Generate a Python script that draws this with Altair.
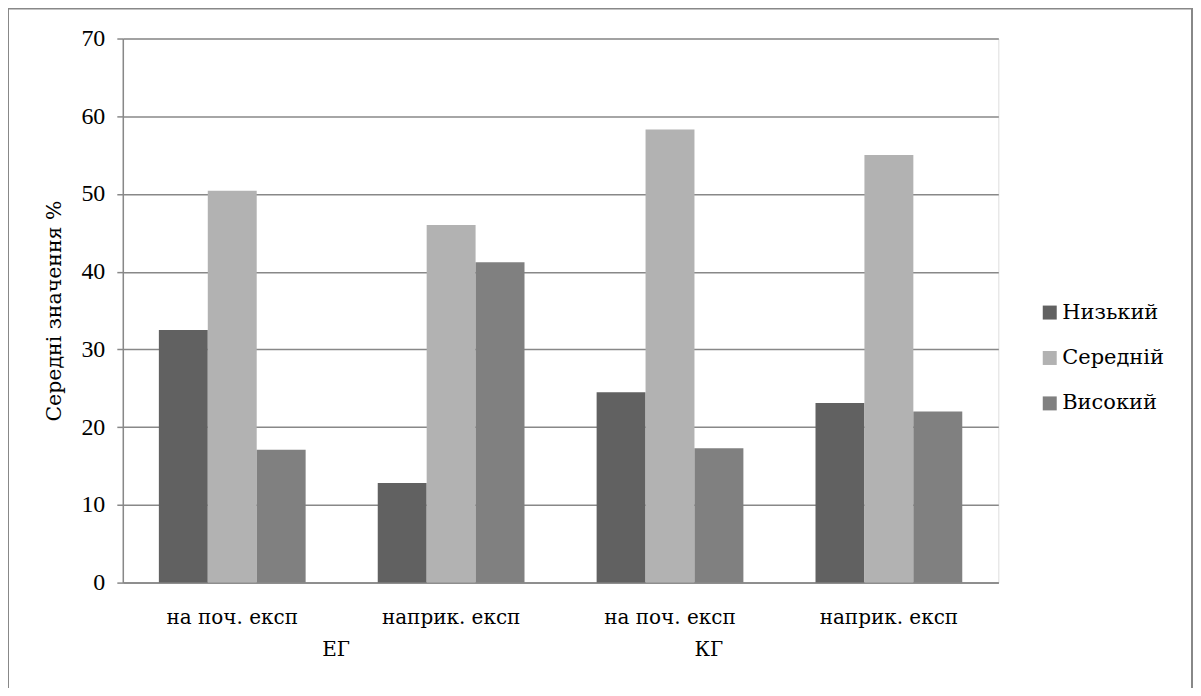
import altair as alt
import pandas as pd

groups = ["ЕГ", "ЕГ", "КГ", "КГ"]
stages = ["на поч. експ", "наприк. експ", "на поч. експ", "наприк. експ"]
series = ["Низький", "Середній", "Високий"]
low = [32.5, 12.8, 24.5, 23.1]
mid = [50.4, 46.0, 58.3, 55.0]
high = [17.1, 41.2, 17.3, 22.0]
colors = ["#616161", "#b2b2b2", "#808080"]

keys = [f"{g}|{s}" for g, s in zip(groups, stages)]
rows = []
for i, k in enumerate(keys):
    for name, vals in zip(series, [low, mid, high]):
        rows.append({"cat": k, "series": name, "value": vals[i]})
df = pd.DataFrame(rows)

FONT = "DejaVu Serif"
NUMFONT = "Liberation Serif"
GRID = "#888888"

xscale = alt.Scale(domain=keys, paddingInner=0, paddingOuter=0)

bars = alt.Chart(df).mark_bar().encode(
    x=alt.X("cat:N", scale=xscale, sort=keys,
            axis=alt.Axis(title=None, labelAngle=0, ticks=False, labelPadding=25,
                          labelExpr="split(datum.label, '|')[1]", labelFontSize=20,
                          labelFont=FONT, labelColor="#000000", domainColor=GRID,
                          domainWidth=1.5, grid=False)),
    xOffset=alt.XOffset("series:N", sort=series,
                        scale=alt.Scale(paddingInner=0, paddingOuter=0.737)),
    y=alt.Y("value:Q", scale=alt.Scale(domain=[0, 70]),
            axis=alt.Axis(title="Середні значення %", values=list(range(0, 71, 10)),
                          labelFontSize=24, labelFont=NUMFONT, labelColor="#000000",
                          titleFont=FONT, titleFontSize=20.5, titleFontWeight="normal",
                          titleColor="#000000", titlePadding=16,
                          tickSize=6, tickColor=GRID, tickWidth=1.5, labelPadding=12,
                          domainColor=GRID, domainWidth=1.5,
                          grid=True, gridColor=GRID, gridWidth=1.5)),
    color=alt.Color("series:N", sort=series,
                    scale=alt.Scale(domain=series, range=colors),
                    legend=alt.Legend(title=None, orient="none", legendX=918, legendY=264,
                                      symbolType="square", symbolSize=196,
                                      symbolStrokeWidth=0, labelFont=FONT,
                                      labelFontSize=21, labelColor="#000000",
                                      rowPadding=23.5, labelOffset=2)),
)

frame = alt.Chart(pd.DataFrame({"a": [0]})).mark_rect(
    fill=None, stroke=GRID, strokeWidth=2
).encode(x=alt.value(-115), x2=alt.value(1071), y=alt.value(-30), y2=alt.value(700))

eg = alt.Chart(pd.DataFrame({"cat": [keys[0]], "label": [groups[0]]})).mark_text(
    font=FONT, fontSize=20, color="#000000", baseline="middle", dx=104
).encode(x=alt.X("cat:N", scale=xscale, sort=keys), y=alt.value(613), text="label:N")

kg = alt.Chart(pd.DataFrame({"cat": [keys[2]], "label": [groups[2]]})).mark_text(
    font=FONT, fontSize=20, color="#000000", baseline="middle", dx=39
).encode(x=alt.X("cat:N", scale=xscale, sort=keys), y=alt.value(613), text="label:N")

chart = alt.layer(frame, bars, eg, kg).properties(
    width=877, height=545,
    padding={"left": 115, "top": 30, "right": 195, "bottom": 105},
    autosize=alt.AutoSizeParams(type="none"),
).configure_view(stroke=None).configure(background="white")

chart.save("out.html", embed_options={"renderer": "svg", "actions": False})
